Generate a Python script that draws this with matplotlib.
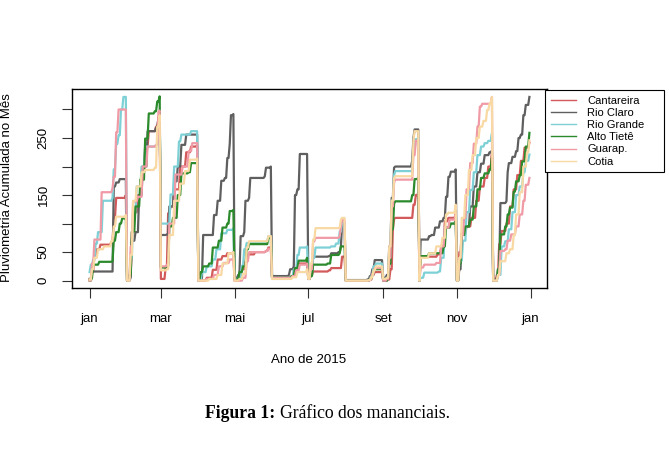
import calendar
import datetime as dt
import matplotlib
matplotlib.use("Agg")
import matplotlib.pyplot as plt
from matplotlib.lines import Line2D
import pandas as pd

YEAR = 2015
series_names = ["Cantareira", "Rio Claro", "Rio Grande", "Alto Tietê", "Guarap.", "Cotia"]
series_colors = ["#d35a5a", "#5f5f5f", "#7dd1d6", "#2b8a2b", "#f09aa6", "#f9d9a3"]

# Cumulative monthly rainfall (mm): per month, (day, accumulated value) levels
cantareira = [
    [(1, 2), (3, 15), (5, 45), (7, 55), (10, 63), (19, 68), (21, 110), (23, 145), (31, 150)],
    [(1, 0), (3, 8), (5, 85), (7, 120), (10, 150), (13, 190), (16, 235), (19, 262), (25, 270), (27, 285), (28, 288)],
    [(1, 3), (4, 3), (5, 25), (7, 118), (9, 130), (12, 160), (17, 200), (22, 225), (26, 235), (31, 238)],
    [(1, 0), (8, 5), (13, 19), (17, 37), (21, 43), (25, 48), (30, 50)],
    [(1, 0), (5, 3), (7, 20), (10, 34), (12, 46), (18, 50), (27, 52), (29, 58), (31, 58)],
    [(1, 5), (16, 6), (19, 15), (21, 20), (23, 30), (30, 32)],
    [(1, 3), (3, 10), (5, 16), (18, 18), (20, 22), (28, 22), (29, 42), (31, 42)],
    [(1, 0), (21, 2), (23, 10), (25, 15), (31, 15)],
    [(1, 0), (5, 2), (7, 20), (9, 90), (10, 108), (11, 110), (24, 110), (26, 133), (28, 150), (30, 153)],
    [(1, 0), (2, 42), (16, 46), (19, 60), (22, 104), (25, 110), (31, 118)],
    [(1, 0), (3, 50), (5, 83), (9, 95), (13, 110), (17, 140), (20, 165), (24, 180), (27, 200), (30, 222)],
    [(1, 0), (4, 10), (6, 64), (8, 87), (12, 100), (15, 130), (18, 160), (21, 185), (24, 210), (27, 233), (31, 242)],
]
rio_claro = [
    [(1, 3), (3, 16), (20, 16), (21, 165), (23, 172), (26, 178), (31, 178)],
    [(1, 0), (4, 5), (5, 70), (8, 85), (11, 150), (14, 200), (18, 262), (25, 268), (27, 285), (28, 290)],
    [(1, 80), (6, 81), (8, 130), (12, 174), (15, 200), (18, 238), (22, 256), (31, 256)],
    [(1, 0), (4, 5), (5, 80), (13, 80), (14, 115), (17, 140), (20, 175), (23, 180), (25, 215), (27, 240), (28, 290), (30, 292)],
    [(1, 5), (4, 10), (6, 78), (9, 85), (10, 140), (13, 145), (14, 180), (26, 183), (27, 198), (31, 200)],
    [(1, 8), (15, 10), (16, 20), (19, 25), (20, 150), (22, 160), (24, 222), (30, 222)],
    [(1, 5), (3, 11), (5, 42), (18, 43), (20, 48), (26, 50), (28, 60), (29, 101), (31, 101)],
    [(1, 1), (19, 2), (21, 8), (23, 20), (25, 36), (31, 36)],
    [(1, 5), (4, 10), (6, 60), (8, 145), (10, 198), (11, 200), (24, 200), (25, 210), (26, 250), (27, 265), (30, 265)],
    [(1, 0), (2, 72), (9, 78), (11, 80), (14, 93), (18, 104), (21, 110), (23, 147), (25, 182), (27, 191), (31, 195)],
    [(1, 0), (3, 20), (5, 83), (8, 95), (12, 130), (15, 165), (18, 190), (21, 205), (24, 220), (28, 225), (30, 228)],
    [(1, 2), (5, 20), (7, 136), (12, 139), (13, 190), (14, 206), (17, 217), (20, 227), (22, 250), (24, 256), (26, 290), (28, 308), (31, 322)],
]
rio_grande = [
    [(1, 15), (2, 28), (4, 37), (6, 65), (8, 85), (12, 140), (20, 145), (21, 195), (23, 240), (25, 255), (27, 300), (29, 322), (31, 322)],
    [(1, 2), (4, 40), (6, 120), (9, 165), (13, 200), (16, 235), (25, 238), (27, 280), (28, 288)],
    [(1, 100), (6, 100), (9, 151), (12, 200), (16, 244), (18, 256), (26, 262), (31, 262)],
    [(1, 2), (4, 15), (8, 25), (13, 37), (16, 55), (20, 83), (25, 89), (30, 92)],
    [(1, 3), (5, 5), (7, 26), (9, 55), (11, 66), (27, 69), (29, 78), (31, 78)],
    [(1, 5), (16, 6), (19, 20), (22, 45), (24, 58), (30, 60)],
    [(1, 3), (3, 11), (5, 40), (7, 58), (20, 60), (24, 65), (27, 86), (29, 101), (31, 101)],
    [(1, 0), (20, 1), (22, 8), (24, 25), (26, 30), (31, 30)],
    [(1, 2), (4, 5), (6, 50), (8, 140), (10, 185), (11, 192), (24, 192), (26, 230), (28, 248), (30, 250)],
    [(1, 0), (2, 5), (5, 14), (17, 16), (19, 40), (22, 93), (26, 100), (31, 107)],
    [(1, 0), (3, 35), (6, 70), (9, 120), (12, 159), (15, 190), (18, 220), (21, 235), (24, 241), (27, 245), (30, 258)],
    [(1, 0), (5, 10), (8, 60), (11, 69), (14, 90), (17, 120), (20, 150), (23, 165), (26, 190), (28, 210), (31, 221)],
]
alto_tiete = [
    [(1, 0), (3, 5), (4, 28), (9, 33), (20, 34), (21, 70), (23, 85), (26, 100), (28, 109), (31, 110)],
    [(1, 0), (3, 10), (5, 86), (8, 130), (12, 177), (16, 249), (19, 293), (24, 297), (26, 314), (28, 323)],
    [(1, 23), (6, 25), (8, 95), (11, 110), (15, 150), (18, 188), (24, 190), (26, 206), (31, 206)],
    [(1, 2), (3, 15), (5, 25), (10, 30), (13, 58), (18, 70), (21, 93), (25, 100), (27, 122), (30, 124)],
    [(1, 2), (5, 15), (8, 25), (11, 55), (13, 64), (27, 64), (29, 75), (31, 75)],
    [(1, 5), (17, 8), (20, 22), (23, 35), (30, 40)],
    [(1, 3), (3, 8), (5, 28), (17, 30), (20, 45), (27, 48), (28, 60), (31, 60)],
    [(1, 0), (21, 2), (23, 12), (25, 20), (31, 20)],
    [(1, 0), (5, 3), (6, 30), (8, 90), (10, 135), (11, 139), (24, 139), (25, 150), (27, 178), (30, 180)],
    [(1, 0), (2, 43), (9, 48), (18, 48), (21, 60), (23, 93), (27, 100), (31, 107)],
    [(1, 0), (3, 30), (5, 80), (8, 95), (12, 107), (15, 130), (18, 160), (21, 180), (24, 188), (28, 195), (30, 215)],
    [(1, 0), (5, 20), (7, 81), (11, 95), (13, 116), (15, 128), (18, 156), (20, 174), (23, 185), (25, 209), (28, 235), (31, 259)],
]
guarapiranga = [
    [(1, 0), (3, 30), (5, 72), (8, 72), (11, 155), (20, 162), (21, 182), (23, 260), (25, 300), (31, 300)],
    [(1, 0), (4, 60), (6, 139), (10, 147), (14, 200), (18, 235), (25, 238), (27, 296), (28, 298)],
    [(1, 25), (6, 28), (8, 100), (13, 186), (19, 200), (24, 227), (27, 241), (31, 241)],
    [(1, 0), (8, 3), (14, 10), (18, 25), (22, 31), (27, 37), (30, 40)],
    [(1, 0), (8, 5), (11, 34), (13, 50), (27, 52), (29, 56), (31, 56)],
    [(1, 5), (18, 8), (21, 18), (24, 28), (30, 30)],
    [(1, 3), (3, 20), (5, 69), (7, 75), (27, 78), (28, 95), (29, 106), (31, 106)],
    [(1, 0), (21, 1), (23, 12), (25, 22), (31, 22)],
    [(1, 0), (4, 3), (6, 40), (8, 130), (10, 172), (11, 177), (24, 177), (26, 220), (28, 245), (30, 248)],
    [(1, 0), (2, 23), (5, 28), (15, 31), (19, 60), (22, 93), (26, 107), (31, 116)],
    [(1, 0), (3, 40), (5, 80), (7, 110), (9, 160), (12, 206), (15, 240), (18, 270), (20, 305), (22, 310), (29, 311), (30, 322)],
    [(1, 0), (5, 10), (7, 52), (11, 55), (13, 70), (16, 81), (20, 95), (23, 116), (26, 140), (28, 168), (31, 180)],
]
cotia = [
    [(1, 2), (3, 20), (5, 40), (8, 55), (13, 60), (19, 69), (21, 95), (23, 112), (31, 115)],
    [(1, 0), (4, 45), (6, 140), (9, 165), (13, 190), (16, 194), (24, 198), (26, 270), (28, 290)],
    [(1, 18), (6, 20), (8, 80), (12, 140), (17, 170), (21, 192), (25, 212), (31, 214)],
    [(1, 0), (10, 3), (17, 10), (21, 30), (26, 48), (30, 50)],
    [(1, 0), (5, 3), (8, 12), (11, 58), (13, 69), (27, 69), (29, 78), (31, 78)],
    [(1, 3), (18, 6), (22, 15), (30, 20)],
    [(1, 3), (3, 30), (5, 72), (7, 92), (27, 93), (28, 107), (29, 110), (31, 110)],
    [(1, 0), (20, 1), (22, 6), (24, 18), (26, 25), (31, 25)],
    [(1, 3), (4, 5), (6, 60), (8, 140), (10, 180), (11, 183), (24, 183), (26, 245), (27, 262), (30, 262)],
    [(1, 0), (2, 40), (9, 48), (11, 48), (15, 60), (20, 75), (23, 116), (25, 119), (31, 133)],
    [(1, 0), (3, 40), (5, 110), (8, 150), (11, 194), (14, 220), (17, 250), (20, 270), (23, 280), (26, 299), (28, 310), (30, 322)],
    [(1, 0), (5, 10), (7, 34), (12, 48), (15, 55), (18, 80), (20, 116), (23, 155), (26, 200), (29, 225), (31, 246)],
]
all_series = [cantareira, rio_claro, rio_grande, alto_tiete, guarapiranga, cotia]

tick_dates = ["2015-01-01", "2015-03-01", "2015-05-01", "2015-07-01", "2015-09-01", "2015-11-01", "2016-01-01"]
tick_labels = ["jan", "mar", "mai", "jul", "set", "nov", "jan"]
y_ticks = [0, 50, 100, 150, 200, 250, 300]
y_tick_labels = ["0", "50", "", "150", "", "250", ""]


def daily_curve(months):
    dates, vals = [], []
    for m, knots in enumerate(months, start=1):
        ndays = calendar.monthrange(YEAR, m)[1]
        for d in range(1, ndays + 1):
            level = 0
            for kd, kv in knots:
                if kd <= d:
                    level = kv
            dates.append(dt.date(YEAR, m, d))
            vals.append(level)
    return pd.Series(vals, index=pd.to_datetime(dates))


plt.rcParams["font.family"] = ["Liberation Sans", "DejaVu Sans"]
W, H = 669, 455
fig = plt.figure(figsize=(W / 100, H / 100), dpi=100)
ax = fig.add_axes([72 / W, 1 - 288 / H, 475 / W, 199 / H])

curves = [daily_curve(s) for s in all_series]
for c, col in zip(curves, series_colors):
    ax.plot(c.index, c.values, color=col, lw=1.6, solid_joinstyle="round")

x0 = curves[0].index.min()
x1 = curves[0].index.max()
span = x1 - x0
ax.set_xlim(x0 - span * 0.04, x1 + span * 0.04)
ymax = max(c.max() for c in curves)
ymin = min(c.min() for c in curves)
yr = ymax - ymin
ax.set_ylim(ymin - 0.04 * yr, ymax + 0.04 * yr)

ax.set_xticks(pd.to_datetime(tick_dates))
ax.set_xticklabels(tick_labels)
ax.set_yticks(y_ticks)
ax.set_yticklabels(y_tick_labels, rotation=90, va="center")
ax.tick_params(axis="both", direction="out", length=7, width=0.8, labelsize=9.5, color="#333333")
ax.tick_params(axis="x", pad=11)
ax.tick_params(axis="y", pad=9)
for sp in ax.spines.values():
    sp.set_linewidth(1.0)
    sp.set_color("black")

fig.text(7 / W, 1 - 188 / H, "Pluviometria Acumulada no Mês", rotation=90,
         ha="center", va="center", fontsize=9.5)
fig.text(309 / W, 1 - 360 / H, "Ano de 2015", ha="center", va="center", fontsize=9.5)

cap_bold = fig.text(205 / W, 1 - 413 / H, "Figura 1:", ha="left", va="center", fontsize=12.7,
                    family="Liberation Serif", weight="bold")
fig.canvas.draw()
bb = cap_bold.get_window_extent(renderer=fig.canvas.get_renderer())
fig.text((bb.x1 + 5) / W, 1 - 413 / H, "Gráfico dos mananciais.", ha="left", va="center",
         fontsize=12.7, family="Liberation Serif")

handles = [Line2D([], [], color=col, lw=1.0) for col in series_colors]
leg = ax.legend(handles, series_names, loc="upper left",
                bbox_to_anchor=(545 / W, 1 - 173 / H, 119 / W, 83 / H),
                bbox_transform=fig.transFigure, mode="expand",
                frameon=True, fancybox=False, edgecolor="black", framealpha=1,
                fontsize=8, handlelength=2.3, handletextpad=1.0, borderpad=0.5,
                labelspacing=0.2, borderaxespad=0)
leg.get_frame().set_linewidth(0.8)
leg.set_clip_on(False)

fig.savefig("out.png", dpi=100)
